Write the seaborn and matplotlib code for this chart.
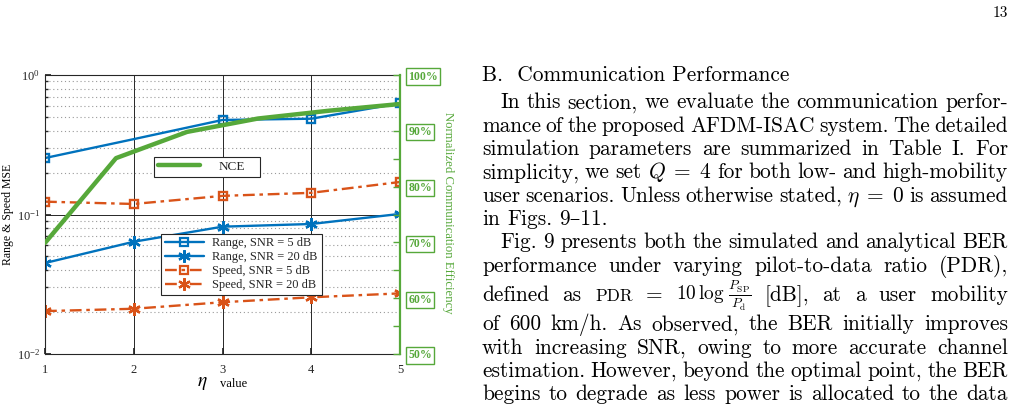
import re
import matplotlib

matplotlib.use("Agg")
import matplotlib.pyplot as plt
import matplotlib.ticker as mticker
from matplotlib.lines import Line2D
import seaborn as sns

# chart data
eta = [1, 2, 3, 4, 5]
range_snr5 = [0.254, 0.347, 0.476, 0.486, 0.627]
range_snr20 = [0.0449, 0.0638, 0.0818, 0.0855, 0.101]
speed_snr5 = [0.1236, 0.119, 0.136, 0.143, 0.171]
speed_snr20 = [0.0203, 0.0211, 0.0235, 0.0255, 0.0272]
nce_eta = [1, 1.8, 2.6, 3.4, 4.2, 5]
nce_pct = [69.9, 85.1, 89.8, 92.2, 93.6, 94.8]
right_ticks = [50, 60, 70, 80, 90, 100]
series_labels = ["Range, SNR = 5 dB", "Range, SNR = 20 dB",
                 "Speed, SNR = 5 dB", "Speed, SNR = 20 dB"]

# page text beside the figure
page_number = "13"
heading = "B.  Communication Performance"
body_lines = [
    "In this section, we evaluate the communication perfor-",
    "mance of the proposed AFDM-ISAC system. The detailed",
    "simulation parameters are summarized in Table I. For",
    "simplicity, we set $Q\\;=\\;4$ for both low- and high-mobility",
    "user scenarios. Unless otherwise stated, $\\eta\\;=\\;0$ is assumed",
    "in Figs. 9–11.",
    "Fig. 9 presents both the simulated and analytical BER",
    "performance under varying pilot-to-data ratio (PDR),",
    "defined as ^PDR = ~$10\\,\\log\\,\\frac{P_{\\mathrm{SP}}}{P_{\\mathrm{d}}}$ [dB], at a user mobility",
    "of 600 km/h. As observed, the BER initially improves",
    "with increasing SNR, owing to more accurate channel",
    "estimation. However, beyond the optimal point, the BER",
    "begins to degrade as less power is allocated to the data",
]
indented = {0, 6}
last_lines = {5}
fraction_line = 8

BLUE = "#0072BD"
ORANGE = "#D95319"
GREEN = "#56A83A"
DARK = "#262626"

sns.set_theme(style="ticks")
plt.rcParams["font.family"] = ["Liberation Serif", "DejaVu Serif"]
plt.rcParams["mathtext.fontset"] = "stix"

W, H = 1015, 411
fig = plt.figure(figsize=(W / 100, H / 100), dpi=100)
ax = fig.add_axes([45 / W, 1 - 354 / H, 355 / W, 279 / H])

styles = [
    (range_snr5, BLUE, "s", "-", [0, 2, 3, 4]),
    (range_snr20, BLUE, (6, 2, 0), "-", None),
    (speed_snr5, ORANGE, "s", (0, (5, 2, 1.5, 2)), None),
    (speed_snr20, ORANGE, (6, 2, 0), (0, (5, 2, 1.5, 2)), None),
]
handles = []
for vals, color, marker, ls, mev in styles:
    msize = 6 if marker == "s" else 9
    sns.lineplot(x=eta, y=vals, ax=ax, color=color, marker=marker,
                 linestyle=ls, lw=1.7, markersize=msize,
                 markerfacecolor="none", markeredgecolor=color,
                 markeredgewidth=1.7, markevery=mev, legend=False)
    handles.append(Line2D([], [], color=color, marker=marker, linestyle=ls,
                          lw=1.7, markersize=msize, markerfacecolor="none",
                          markeredgecolor=color, markeredgewidth=1.6))

ax.set_yscale("log")
ax.set_ylim(1e-2, 1)
ax.set_xlim(1, 5)
ax.set_xticks(eta)
ax.yaxis.set_minor_locator(mticker.LogLocator(base=10, subs=range(2, 10)))
ax.grid(which="major", color=DARK, linestyle="-", lw=0.7)
ax.grid(which="minor", axis="y", color="#9a9a9a", linestyle=(0, (1, 2.5)), lw=0.8)
ax.tick_params(axis="both", which="major", direction="in", length=4,
               color=DARK, labelcolor=DARK, labelsize=9)
ax.tick_params(axis="x", pad=7)
ax.tick_params(axis="y", which="minor", direction="in", length=2.5, color=DARK)
for side in ["left", "top", "bottom"]:
    ax.spines[side].set_color(DARK)
    ax.spines[side].set_linewidth(0.8)
ax.spines["right"].set_visible(False)
ax.set_xlabel("")
ax.set_ylabel("Range & Speed MSE", fontsize=8.5, color="black")
ax.yaxis.set_label_coords(-0.087, 0.5)

ax.text(0.442, -0.1075, r"$\eta$", transform=ax.transAxes, fontsize=14,
        ha="center", va="center", color="black")
ax.text(0.493, -0.1075, "value", transform=ax.transAxes, fontsize=9,
        ha="left", va="center", color="black")

# right axis: normalized communication efficiency
ax2 = ax.twinx()
sns.lineplot(x=nce_eta, y=nce_pct, ax=ax2, color=GREEN, lw=3.2, legend=False)
ax2.set_ylim(50, 100)
ax2.set_yticks(right_ticks)
ax2.set_yticklabels([f"{v}%" for v in right_ticks], fontweight="bold",
                    bbox=dict(boxstyle="square,pad=0.18", fc="white", ec=GREEN, lw=1.0))
ax2.yaxis.set_minor_locator(mticker.MultipleLocator(5))
ax2.tick_params(axis="y", which="both", direction="in", length=5, width=1,
                color=GREEN, labelcolor=GREEN, labelsize=8.5, pad=6)
for side in ["left", "top", "bottom"]:
    ax2.spines[side].set_visible(False)
ax2.spines["right"].set_color(GREEN)
ax2.spines["right"].set_linewidth(1.6)
ax2.set_xlabel("")
ax2.set_ylabel("Normalized Communication Efficiency", fontsize=9.2, color=GREEN)
ax2.yaxis.set_label_coords(1.135, 0.505)
ax2.yaxis.label.set(rotation=270, va="center", ha="center")

leg_kw = dict(loc="upper left", bbox_transform=fig.transFigure, mode="expand",
              borderaxespad=0, fancybox=False, edgecolor=DARK, framealpha=1)
leg1 = ax2.legend([Line2D([], [], color=GREEN, lw=3.2)], ["NCE"],
                  bbox_to_anchor=(154 / W, 1 - 157 / H, 106 / W, 0.001),
                  fontsize=9.5, handlelength=3.2, handletextpad=1.4,
                  borderpad=0.3, **leg_kw)
leg1.get_frame().set_linewidth(0.8)
ax2.add_artist(leg1)
leg2 = ax2.legend(handles, series_labels,
                  bbox_to_anchor=(161 / W, 1 - 234 / H, 161 / W, 0.001),
                  fontsize=8.9, handlelength=3.2, handletextpad=0.6,
                  labelspacing=0.15, borderpad=0.3, **leg_kw)
leg2.get_frame().set_linewidth(0.8)

# page text in Computer Modern
BODY = dict(fontfamily=["cmr10", "DejaVu Serif"], math_fontfamily="cm", color="black")
SIZE = 15.4
renderer = fig.canvas.get_renderer()


def place_line(line, x0, x1, y, justify=True):
    words = re.findall(r"\$[^$]*\$\S*|\S+", line)
    items = []
    for w in words:
        fs = SIZE
        if w.startswith("^"):
            w, fs = w[1:], SIZE * 0.8
        elif w.startswith("~"):
            w, fs = w[1:], SIZE * 0.9
        items.append(fig.text(x0 / W, 1 - y / H, w, fontsize=fs, ha="left",
                              va="baseline", **BODY))
    widths = [t.get_window_extent(renderer).width for t in items]
    gap = 0.333 * SIZE * 100 / 72
    if justify and len(items) > 1:
        gap = (x1 - x0 - sum(widths)) / (len(items) - 1)
    x = x0
    for t, w in zip(items, widths):
        t.set_x(x / W)
        x += w + gap


left, right, indent = 482, 1008, 500
fig.text(right / W, 1 - 17 / H, page_number, fontsize=11, ha="right",
         va="baseline", **BODY)
fig.text(left / W, 1 - 81 / H, heading, fontsize=SIZE, ha="left",
         va="baseline", **BODY)

# baselines: regular skip, with extra room around the line holding the fraction
skip, extra = 23.3, 6.0
y = 108.5
for i, line in enumerate(body_lines):
    if i > 0:
        y += skip + (extra if i in (fraction_line, fraction_line + 1) else 0)
    x0 = indent if i in indented else left
    place_line(line, x0, right, y, justify=i not in last_lines)

fig.savefig("out.png", dpi=100)
